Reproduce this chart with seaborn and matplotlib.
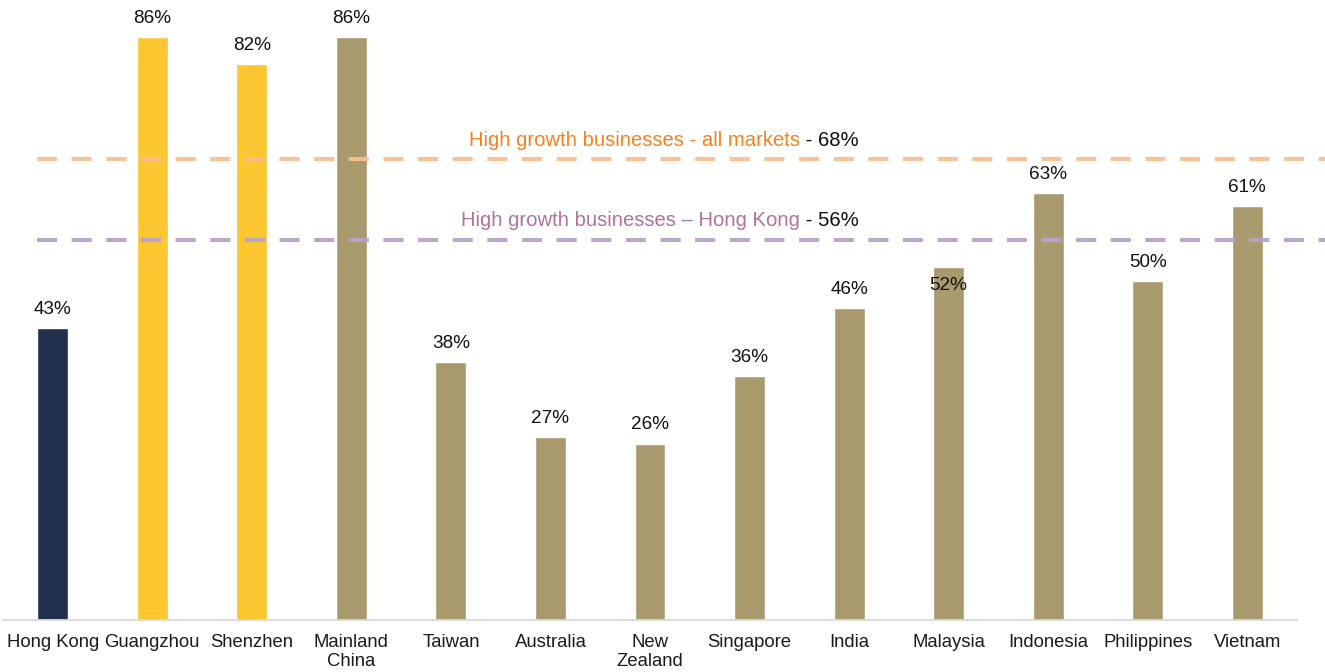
import matplotlib
matplotlib.use("Agg")
import matplotlib.pyplot as plt
import seaborn as sns
import pandas as pd

# Share of businesses by market (%)
markets = ["Hong Kong", "Guangzhou", "Shenzhen", "Mainland\nChina", "Taiwan",
           "Australia", "New\nZealand", "Singapore", "India", "Malaysia",
           "Indonesia", "Philippines", "Vietnam"]
shares = [43, 86, 82, 86, 38, 27, 26, 36, 46, 52, 63, 50, 61]
bar_colors = ["#22304e", "#fcc630", "#fcc630"] + ["#a99a6e"] * 10

# Reference benchmarks
benchmark_names = ["High growth businesses - all markets", "High growth businesses \u2013 Hong Kong"]
benchmark_values = [68, 56]
benchmark_line_colors = ["#fcbf90", "#b5a2cb"]
benchmark_text_colors = ["#f5801f", "#b3729d"]

sns.set_theme(style="white")
plt.rcParams["font.family"] = ["Liberation Sans", "DejaVu Sans"]

W, H = 1325, 672
fig = plt.figure(figsize=(W / 100, H / 100), dpi=100)
ax = fig.add_axes([3 / W, (H - 620) / H, 1294 / W, 620 / H])

df = pd.DataFrame({"market": markets, "share": shares})
sns.barplot(data=df, x="market", y="share", hue="market", palette=bar_colors,
            width=0.31, legend=False, ax=ax, saturation=1)

ax.set_xlim(-0.5, len(markets) - 0.5)
ax.set_ylim(0, 91.45)
ax.set_xlabel("")
ax.set_ylabel("")
ax.set_yticks([])
for s in ["top", "right", "left"]:
    ax.spines[s].set_visible(False)
ax.spines["bottom"].set_color("#d9d9d9")
ax.spines["bottom"].set_linewidth(1.3)
ax.tick_params(axis="x", length=0, pad=10, labelsize=13.3, colors="#1a1a1a")
for lbl in ax.get_xticklabels():
    lbl.set_linespacing(1.2)

# value labels; Malaysia's label sits just inside the bar top
for i, (m, v) in enumerate(zip(markets, shares)):
    dy = -13 if m == "Malaysia" else 13.5
    ax.annotate(f"{v}%", (i, v), xytext=(0, dy), textcoords="offset points",
                ha="center", va="center", fontsize=13.6, color="#111111")

# benchmark dashed lines with captions
x0 = (37 - 3) / 1294
x1 = (1325 - 3) / 1294
cap_offsets = [13, 14.4]
for name, val, lc, tc, off in zip(benchmark_names, benchmark_values,
                                   benchmark_line_colors, benchmark_text_colors, cap_offsets):
    ax.axhline(val, xmin=x0, xmax=x1, color=lc, lw=2.9, dashes=(5, 3.6),
               clip_on=False, zorder=3, alpha=0.95)
    xr = 8.1
    t2 = ax.annotate(f" - {val}%", (xr, val), xytext=(0, off), textcoords="offset points",
                     ha="right", va="center", fontsize=14.6, color="#111111")
    fig.canvas.draw()
    bb = t2.get_window_extent()
    inv = ax.transData.inverted()
    xl = inv.transform((bb.x0, bb.y0))[0]
    ax.annotate(name, (xl, val), xytext=(0, off), textcoords="offset points",
                ha="right", va="center", fontsize=14.6, color=tc)

fig.savefig("out.png", dpi=100)
